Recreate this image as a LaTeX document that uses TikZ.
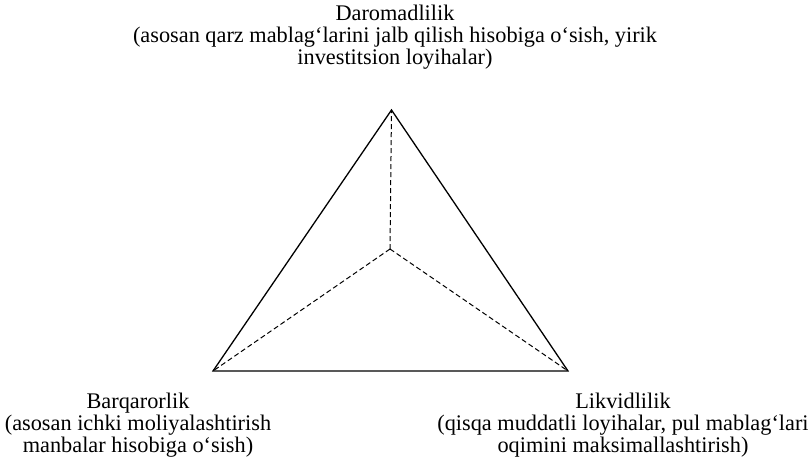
\documentclass[tikz,border=0pt]{standalone}
\usepackage{fontspec}
\setmainfont{Liberation Serif}
\usepackage{tikz}
\usetikzlibrary{positioning}

\begin{document}
\begin{tikzpicture}[
    x=1pt, y=-1pt,
    caption/.style={font=\fontsize{22.3}{21.8}\selectfont, align=center, inner sep=0pt, anchor=north},
    side/.style={line width=1.3pt, line join=miter},
    spoke/.style={line width=1pt, dash pattern=on 5pt off 3pt},
]
\useasboundingbox (0,0) rectangle (811,466);

% Vertices of the triangle
\coordinate (top) at (391.5, 110);
\coordinate (left) at (213, 371);
\coordinate (right) at (568, 371);
\coordinate (centre) at (390, 249);

% Captions
\node[caption] (profit) at (395, 5) {Daromadlilik\\(asosan qarz mablag`larini jalb qilish hisobiga o`sish, yirik\\investitsion loyihalar)};
\node[caption] (stable) at (138, 393) {Barqarorlik\\(asosan ichki moliyalashtirish\\manbalar hisobiga o`sish)};
\node[caption] (liquid) at (623, 393) {Likvidlilik\\(qisqa muddatli loyihalar, pul mablag`lari\\oqimini maksimallashtirish)};

% Triangle
\draw[side] (top) -- (right) -- (left) -- cycle;

% Dashed spokes to the centre
\foreach \v in {top,left,right} {
    \draw[spoke] (centre) -- (\v);
}

\end{tikzpicture}
\end{document}
